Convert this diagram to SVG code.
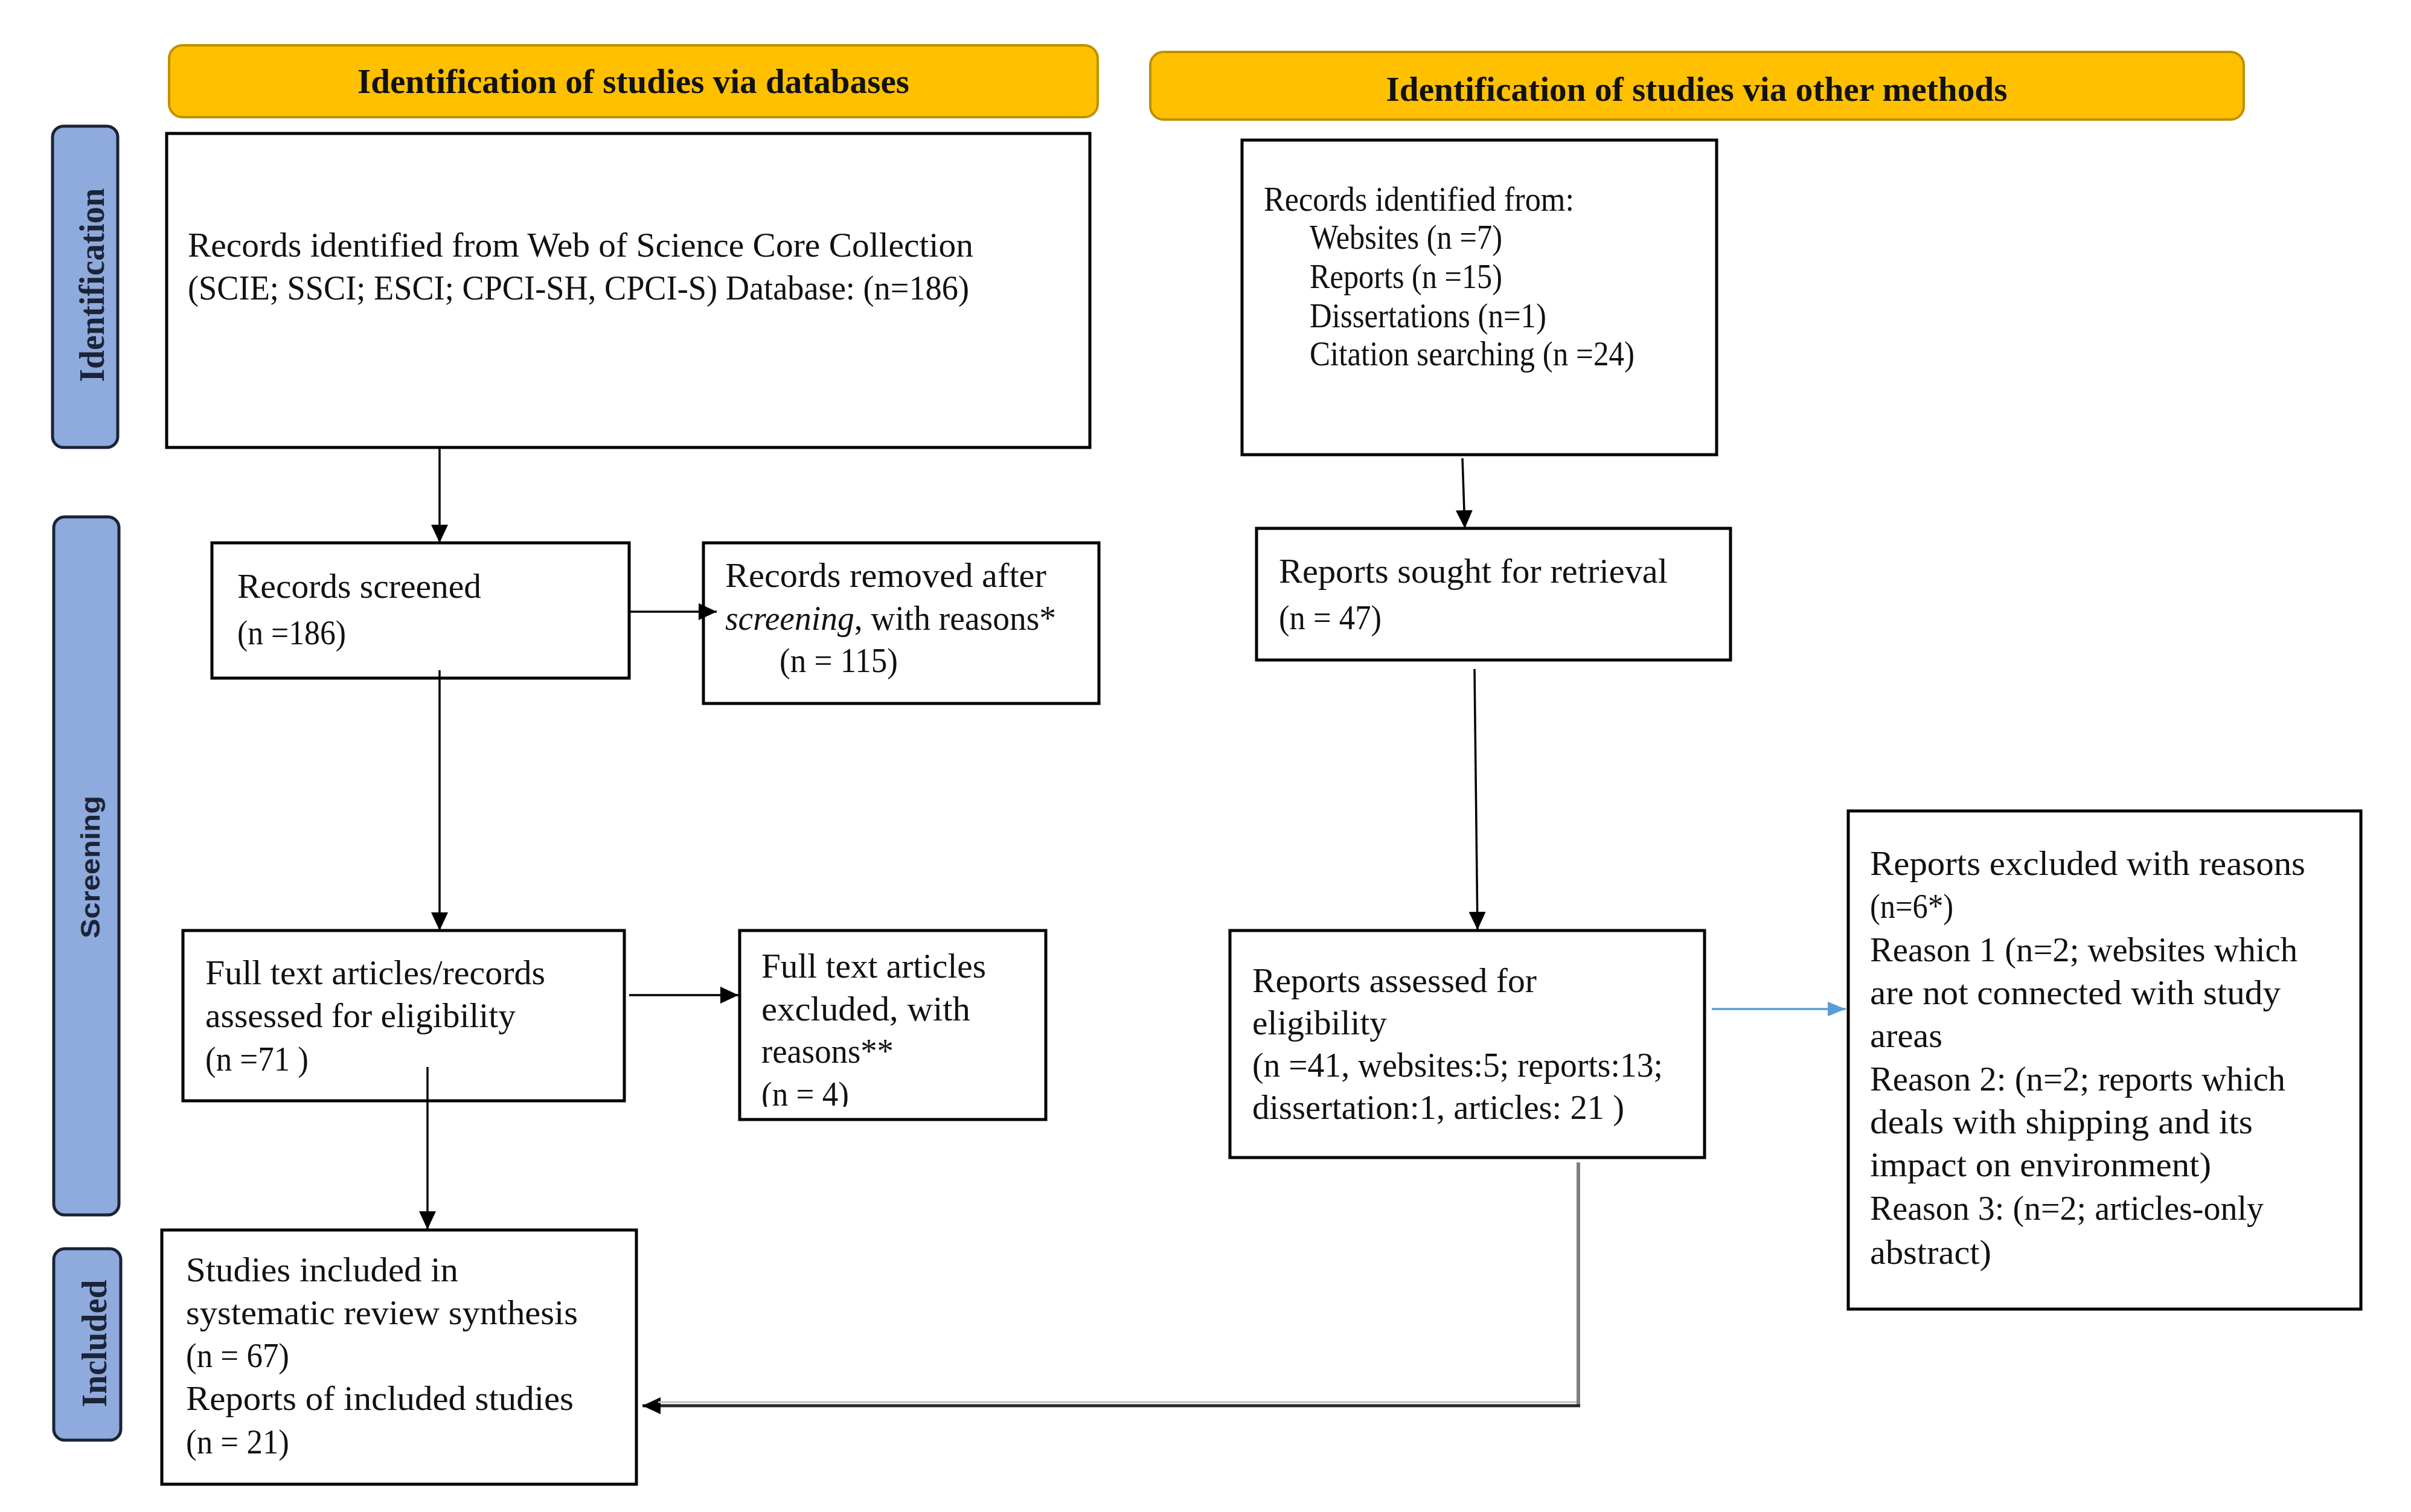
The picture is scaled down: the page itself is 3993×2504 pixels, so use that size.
<svg xmlns="http://www.w3.org/2000/svg" width="3993" height="2504" viewBox="0 0 3993 2504">
<style>
  .hdr { fill: #FFC000; stroke: #BF9000; stroke-width: 4; }
  .hdrtxt { font-family: "Liberation Serif", serif; font-weight: bold; font-size: 56px; fill: #111; text-anchor: middle; }
  .side { fill: #8FAADC; stroke: #1B2436; stroke-width: 5; }
  .sidetxt { font-family: "Liberation Serif", serif; font-weight: bold; font-size: 60px; fill: #1B2436; text-anchor: middle; }
  .sidesans { font-family: "Liberation Sans", sans-serif; font-weight: bold; font-size: 44px; fill: #1B2436; text-anchor: middle; }
  .box { fill: #fff; stroke: #000; stroke-width: 5; }
  .t { font-family: "Liberation Serif", serif; font-size: 57px; fill: #111; }
  .conn { stroke: #000; stroke-width: 3.5; fill: none; }
</style>
<defs>
  <marker id="ah" markerUnits="userSpaceOnUse" markerWidth="32" markerHeight="32" viewBox="0 0 32 32" refX="30" refY="16" orient="auto">
    <path d="M0,2 L30,16 L0,30 Z" fill="#000"/>
  </marker>
  <marker id="ahb" markerUnits="userSpaceOnUse" markerWidth="32" markerHeight="32" viewBox="0 0 32 32" refX="30" refY="16" orient="auto">
    <path d="M0,4 L30,16 L0,28 Z" fill="#5B9BD5"/>
  </marker>
  <clipPath id="clipF"><rect x="1225" y="1541" width="510" height="292"/></clipPath>
</defs>
<rect width="3993" height="2504" fill="#fff"/>

<g id="header-databases">
  <rect class="hdr" x="280" y="75" width="1538" height="119" rx="22"/>
  <text class="hdrtxt" x="1049" y="154" textLength="914" lengthAdjust="spacingAndGlyphs">Identification of studies via databases</text>
</g>
<g id="header-other">
  <rect class="hdr" x="1905" y="86" width="1811" height="112" rx="22"/>
  <text class="hdrtxt" x="2810" y="167" textLength="1029" lengthAdjust="spacingAndGlyphs">Identification of studies via other methods</text>
</g>

<g id="label-identification">
  <rect class="side" x="87" y="209" width="108" height="532" rx="18"/>
  <text class="sidetxt" transform="translate(172,472) rotate(-90)" textLength="321" lengthAdjust="spacingAndGlyphs">Identification</text>
</g>
<g id="label-screening">
  <rect class="side" x="89" y="856" width="108" height="1156" rx="18"/>
  <text class="sidesans" transform="translate(165,1436) rotate(-90)" textLength="236" lengthAdjust="spacingAndGlyphs">Screening</text>
</g>
<g id="label-included">
  <rect class="side" x="89" y="2068" width="111" height="317" rx="18"/>
  <text class="sidetxt" transform="translate(176,2225) rotate(-90)" textLength="211" lengthAdjust="spacingAndGlyphs">Included</text>
</g>

<g id="records-identified-db">
  <rect class="box" x="276" y="221" width="1529" height="520"/>
  <text class="t" x="311" y="425" textLength="1301" lengthAdjust="spacingAndGlyphs">Records identified from Web of Science Core Collection</text>
  <text class="t" x="311" y="496" textLength="1294" lengthAdjust="spacingAndGlyphs">(SCIE; SSCI; ESCI; CPCI-SH, CPCI-S) Database: (n=186)</text>
</g>

<g id="records-identified-other">
  <rect class="box" x="2057" y="232" width="786" height="521"/>
  <text class="t" x="2093" y="349" textLength="514" lengthAdjust="spacingAndGlyphs">Records identified from:</text>
  <text class="t" x="2169" y="412" textLength="319" lengthAdjust="spacingAndGlyphs">Websites (n =7)</text>
  <text class="t" x="2169" y="477" textLength="319" lengthAdjust="spacingAndGlyphs">Reports (n =15)</text>
  <text class="t" x="2169" y="542" textLength="392" lengthAdjust="spacingAndGlyphs">Dissertations (n=1)</text>
  <text class="t" x="2169" y="605" textLength="538" lengthAdjust="spacingAndGlyphs">Citation searching (n =24)</text>
</g>

<g id="records-screened">
  <rect class="box" x="351" y="899" width="691" height="224"/>
  <text class="t" x="393" y="990" textLength="404" lengthAdjust="spacingAndGlyphs">Records screened</text>
  <text class="t" x="393" y="1067" textLength="180" lengthAdjust="spacingAndGlyphs">(n =186)</text>
</g>

<g id="records-removed">
  <rect class="box" x="1165" y="899" width="655" height="266"/>
  <text class="t" x="1201" y="972" textLength="532" lengthAdjust="spacingAndGlyphs">Records removed after</text>
  <text class="t" x="1201" y="1043" textLength="548" lengthAdjust="spacingAndGlyphs"><tspan font-style="italic">screening</tspan>, with reasons*</text>
  <text class="t" x="1291" y="1113" textLength="196" lengthAdjust="spacingAndGlyphs">(n = 115)</text>
</g>

<g id="full-text-assessed">
  <rect class="box" x="303" y="1541" width="731" height="282"/>
  <text class="t" x="340" y="1630" textLength="563" lengthAdjust="spacingAndGlyphs">Full text articles/records</text>
  <text class="t" x="340" y="1701" textLength="514" lengthAdjust="spacingAndGlyphs">assessed for eligibility</text>
  <text class="t" x="340" y="1773" textLength="171" lengthAdjust="spacingAndGlyphs">(n =71 )</text>
</g>

<g id="full-text-excluded">
  <rect class="box" x="1225" y="1541" width="507" height="313"/>
  <g clip-path="url(#clipF)">
    <text class="t" x="1261" y="1619" textLength="372" lengthAdjust="spacingAndGlyphs">Full text articles</text>
    <text class="t" x="1261" y="1690" textLength="346" lengthAdjust="spacingAndGlyphs">excluded, with</text>
    <text class="t" x="1261" y="1760" textLength="219" lengthAdjust="spacingAndGlyphs">reasons**</text>
    <text class="t" x="1261" y="1831" textLength="145" lengthAdjust="spacingAndGlyphs">(n = 4)</text>
  </g>
</g>

<g id="studies-included">
  <rect class="box" x="268" y="2037" width="786" height="421"/>
  <text class="t" x="308" y="2122" textLength="451" lengthAdjust="spacingAndGlyphs">Studies included in</text>
  <text class="t" x="308" y="2193" textLength="649" lengthAdjust="spacingAndGlyphs">systematic review synthesis</text>
  <text class="t" x="308" y="2264" textLength="171" lengthAdjust="spacingAndGlyphs">(n = 67)</text>
  <text class="t" x="308" y="2335" textLength="642" lengthAdjust="spacingAndGlyphs">Reports of included studies</text>
  <text class="t" x="308" y="2407" textLength="171" lengthAdjust="spacingAndGlyphs">(n = 21)</text>
</g>

<g id="reports-sought">
  <rect class="box" x="2081" y="875" width="785" height="218"/>
  <text class="t" x="2118" y="965" textLength="644" lengthAdjust="spacingAndGlyphs">Reports sought for retrieval</text>
  <text class="t" x="2118" y="1042" textLength="170" lengthAdjust="spacingAndGlyphs">(n = 47)</text>
</g>

<g id="reports-assessed">
  <rect class="box" x="2037" y="1541" width="786" height="376"/>
  <text class="t" x="2074" y="1643" textLength="471" lengthAdjust="spacingAndGlyphs">Reports assessed for</text>
  <text class="t" x="2074" y="1713" textLength="223" lengthAdjust="spacingAndGlyphs">eligibility</text>
  <text class="t" x="2074" y="1783" textLength="680" lengthAdjust="spacingAndGlyphs">(n =41, websites:5; reports:13;</text>
  <text class="t" x="2074" y="1853" textLength="616" lengthAdjust="spacingAndGlyphs">dissertation:1, articles: 21 )</text>
</g>

<g id="reports-excluded">
  <rect class="box" x="3061" y="1343" width="849" height="825"/>
  <text class="t" x="3097" y="1449" textLength="721" lengthAdjust="spacingAndGlyphs">Reports excluded with reasons</text>
  <text class="t" x="3097" y="1520" textLength="138" lengthAdjust="spacingAndGlyphs">(n=6*)</text>
  <text class="t" x="3097" y="1592" textLength="708" lengthAdjust="spacingAndGlyphs">Reason 1 (n=2; websites which</text>
  <text class="t" x="3097" y="1663" textLength="680" lengthAdjust="spacingAndGlyphs">are not connected with study</text>
  <text class="t" x="3097" y="1734" textLength="120" lengthAdjust="spacingAndGlyphs">areas</text>
  <text class="t" x="3097" y="1806" textLength="688" lengthAdjust="spacingAndGlyphs">Reason 2: (n=2; reports which</text>
  <text class="t" x="3097" y="1877" textLength="634" lengthAdjust="spacingAndGlyphs">deals with shipping and its</text>
  <text class="t" x="3097" y="1948" textLength="565" lengthAdjust="spacingAndGlyphs">impact on environment)</text>
  <text class="t" x="3097" y="2020" textLength="652" lengthAdjust="spacingAndGlyphs">Reason 3: (n=2; articles-only</text>
  <text class="t" x="3097" y="2093" textLength="201" lengthAdjust="spacingAndGlyphs">abstract)</text>
</g>

<g id="connectors">
  <line class="conn" x1="728" y1="741" x2="728" y2="899" marker-end="url(#ah)"/>
  <line class="conn" x1="1042" y1="1013" x2="1187" y2="1013" marker-end="url(#ah)"/>
  <line class="conn" x1="728" y1="1110" x2="728" y2="1541" marker-end="url(#ah)"/>
  <line class="conn" x1="1042" y1="1648" x2="1223" y2="1648" marker-end="url(#ah)"/>
  <line class="conn" x1="708" y1="1767" x2="708" y2="2036" marker-end="url(#ah)"/>
  <line class="conn" x1="2422" y1="759" x2="2426" y2="875" marker-end="url(#ah)"/>
  <line class="conn" x1="2442" y1="1108" x2="2447" y2="1540" marker-end="url(#ah)"/>
  <line x1="2835" y1="1671" x2="3057" y2="1671" stroke="#5B9BD5" stroke-width="3.5" marker-end="url(#ahb)"/>
  <line x1="2614" y1="1925" x2="2614" y2="2330" stroke="#7F7F7F" stroke-width="6"/>
  <line x1="2617" y1="2328" x2="1064" y2="2328" stroke="#262626" stroke-width="5" marker-end="url(#ah)"/>
  <line x1="2611" y1="2322" x2="1090" y2="2322" stroke="#BFBFBF" stroke-width="3"/>
</g>
</svg>
